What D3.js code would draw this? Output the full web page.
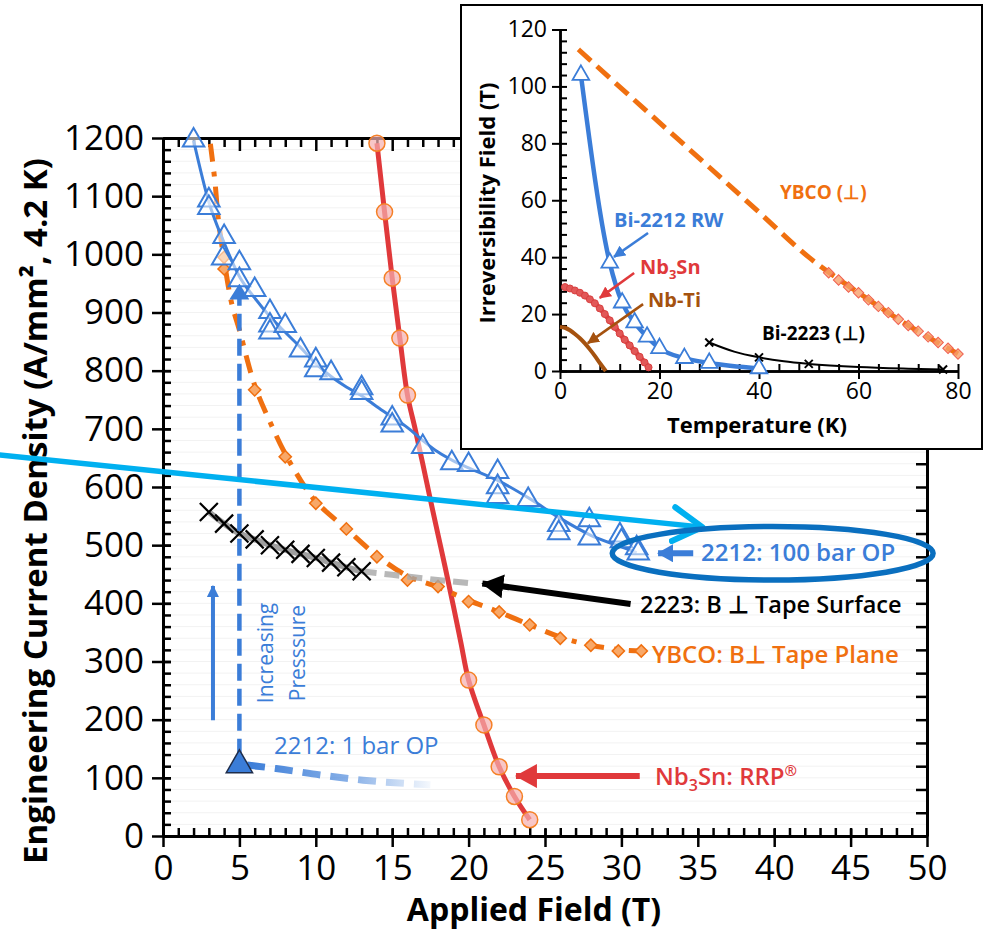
<!DOCTYPE html>
<html>
<head>
<meta charset="utf-8">
<script src="https://cdn.jsdelivr.net/npm/d3@7"></script>
<style>
body { margin: 0; background: #fff; }
svg text { font-family: "Open Sans", sans-serif; }
</style>
</head>
<body>
<script>
// ---- main chart: engineering current density at 4.2 K vs applied field ----
var fieldTicks = [0, 5, 10, 15, 20, 25, 30, 35, 40, 45, 50];
var jeTicks = [0, 100, 200, 300, 400, 500, 600, 700, 800, 900, 1000, 1100, 1200];

// Bi-2212 round wire, 100 bar overpressure (open triangles)
var bi2212Points = [[2,1196],[3,1093],[3,1080],[4,1030],[3.9,993],[5,985],[5,956],[6,939],[7,901],[7,878],[7,866],
  [8,877],[9,835],[10,818],[10,801],[11,796],[13,770],[13,762],[15,718],[15,706],[17,669],[18.9,641],[20,638],
  [21.9,626],[21.9,600],[21.9,583],[23.9,578],[25.9,535],[25.9,521],[27.9,543],[27.9,512],[29.9,517],[30,507],
  [31,495],[31.1,486]];
var bi2212Fit = [[2,1196],[3,1090],[4,1020],[5,962],[6,925],[7,893],[8,866],[9,840],[10,812],[11,790],[12,772],
  [13,757],[14,738],[15,720],[16,702],[17,680],[18,660],[19,645],[20,633],[22,610],[24,580],[26,546],[28,517],
  [30,497],[31,487]];
// Bi-2212, 1 bar overpressure
var bi2212OneBar = [[5,122]];
var bi2212OneBarTrend = [[5.5,122],[7.4,116],[10.3,105],[13.1,96],[17.5,88]];

// YBCO, B perpendicular to tape plane (diamonds, dash-dot)
var ybcoPoints = [[4,995],[4,975],[6,767],[8,652],[10,572],[12,528],[14,480],[16,440],[18,429],[20,403],
  [22,385],[24,363],[26,340],[28,328],[29.8,318],[31.3,318]];
var ybcoLine = [[3.1,1190],[3.4,1125],[3.6,1065],[4,990],[4.5,915],[5,870],[6,775],[7,712],[8,657],[9,612],
  [10,575],[12,528],[14,482],[16,447],[18,428],[20,405],[22,385],[24,363],[26,342],[28,328],[30,320],[31.3,318]];

// Bi-2223 tape, B perpendicular to tape surface (crosses)
var bi2223Points = [[3,557],[4,537],[5,520],[6,510],[7,500],[8,492],[9,485],[10,478],[11,470],[12,462],[13,455]];
var bi2223Extrap = [[13,455],[15,449],[17,443],[20.3,434]];

// Nb3Sn RRP (circles)
var nb3snPoints = [[14,1191],[14.5,1073],[15,959],[15.5,856],[16,758],[20,268],[21,191],[22,119],[23,68],[24,28]];
var nb3snLine = [[14,1191],[14.5,1073],[15,959],[15.5,856],[16,758],[16.5,700],[17,640],[17.5,578],[18,518],
  [18.5,458],[19,396],[19.5,332],[20,268],[21,191],[22,119],[23,68],[24,28]];

// ---- inset: irreversibility field vs temperature ----
var tempTicks = [0, 20, 40, 60, 80];
var hirrTicks = [0, 20, 40, 60, 80, 100, 120];
var insetYbcoLine = [[3.7,113],[10,103],[20,87.3],[30,71.6],[40,55.8],[50,40],[60,27.5],[70,16],[80,6]];
var insetYbcoPoints = [[54,34.5],[56,32],[58,29.5],[60,27.5],[62,25],[64,22.7],[66,20.5],[68,18.2],[70,16],
  [72,14],[74,12],[76,10],[78,8],[80,6]];
var insetBi2212 = [[4.2,104],[10,38],[12.5,24],[15,17],[17.5,12],[20,8],[25,4.5],[30,2.8],[40,0.9]];
var insetNb3Sn = [[1,29.5],[2,29],[3,28.3],[4,27.5],[5,26.5],[6,25.2],[7,23.8],[8,22],[9,20],[10,17.8],
  [11,15.5],[12,13.2],[13,11],[14,9],[15,7],[16,5],[17,3],[17.8,1.3]];
var insetNbTi = [[0,15.5],[1,15.2],[2,14.3],[3,13],[4,11.5],[5,9.7],[6,7.6],[7,5.3],[8,2.8],[9.2,0]];
var insetBi2223Line = [[30,10],[35,6.8],[40,4.8],[45,3.4],[50,2.5],[60,1.4],[70,0.8],[77,0.5]];
var insetBi2223Points = [[30,10],[40,4.8],[50,2.5],[77,0.5]];

var blue = '#3b7dd8', orange = '#f07010', red = '#e0393b', brown = '#a5520f';

var svg = d3.select('body').append('svg')
    .attr('width', 984)
    .attr('height', 929);

var defs = svg.append('defs');
function arrowHead(id, color, len, wid) {
    defs.append('marker')
        .attr('id', id)
        .attr('markerUnits', 'userSpaceOnUse')
        .attr('viewBox', '0 0 ' + len + ' ' + wid)
        .attr('markerWidth', len)
        .attr('markerHeight', wid)
        .attr('refX', len - 1)
        .attr('refY', wid / 2)
        .attr('orient', 'auto')
        .append('path')
        .attr('d', 'M0,0L' + len + ',' + wid / 2 + 'L0,' + wid + 'Z')
        .attr('fill', color);
}
arrowHead('ahRed', red, 22, 24);
arrowHead('ahBlack', '#000', 22, 24);
arrowHead('ahBlue', blue, 16, 18);
arrowHead('ahBlueV', blue, 16, 20);
arrowHead('ahBlueS', blue, 12, 12);
arrowHead('ahRedS', red, 12, 12);
arrowHead('ahBrownS', brown, 12, 12);
defs.append('marker')
    .attr('id', 'chevron')
    .attr('markerUnits', 'userSpaceOnUse')
    .attr('viewBox', '0 0 36 40')
    .attr('markerWidth', 36)
    .attr('markerHeight', 40)
    .attr('refX', 32)
    .attr('refY', 20)
    .attr('orient', 'auto')
    .append('path')
    .attr('d', 'M3,3L32,20L3,37')
    .attr('fill', 'none')
    .attr('stroke', '#00b0f0')
    .attr('stroke-width', 6)
    .attr('stroke-linecap', 'round')
    .attr('stroke-linejoin', 'round');
var grad = defs.append('linearGradient')
    .attr('id', 'fade')
    .attr('gradientUnits', 'userSpaceOnUse');

var x = d3.scaleLinear().domain([0, 50]).range([163, 927]);
var y = d3.scaleLinear().domain([0, 1200]).range([836, 138]);

grad.attr('x1', x(5.5)).attr('x2', x(18)).attr('y1', 0).attr('y2', 0);
grad.append('stop').attr('offset', '0%').attr('stop-color', blue).attr('stop-opacity', 1);
grad.append('stop').attr('offset', '55%').attr('stop-color', blue).attr('stop-opacity', 0.6);
grad.append('stop').attr('offset', '100%').attr('stop-color', blue).attr('stop-opacity', 0);

// faint gridlines
svg.append('g').selectAll('line')
    .data(d3.range(20, 1201, 20))
    .enter().append('line')
    .attr('x1', x(0)).attr('x2', x(50))
    .attr('y1', d => y(d)).attr('y2', d => y(d))
    .attr('stroke', '#f2f2f2').attr('stroke-width', 1);

function styleAxis(g, size, w) {
    g.attr('font-family', '"Open Sans", sans-serif').attr('font-size', size);
    g.select('.domain').attr('stroke', '#000').attr('stroke-width', w + 0.5);
    g.selectAll('.tick line').attr('stroke', '#000').attr('stroke-width', w);
    g.selectAll('.tick text').attr('fill', '#000');
}

// bottom axis
var gxMinor = svg.append('g').attr('transform', 'translate(0,' + y(0) + ')')
    .call(d3.axisBottom(x).tickValues(d3.range(0, 51, 1)).tickSize(-8).tickSizeOuter(0).tickFormat(''));
styleAxis(gxMinor, 35, 2.5);
var gx = svg.append('g').attr('transform', 'translate(0,' + y(0) + ')')
    .call(d3.axisBottom(x).tickValues(fieldTicks).tickSize(11).tickSizeOuter(0).tickPadding(8));
styleAxis(gx, 35, 2.5);
gx.selectAll('.tick line').attr('y1', -7);

// left axis
var gyMinor = svg.append('g').attr('transform', 'translate(' + x(0) + ',0)')
    .call(d3.axisLeft(y).tickValues(d3.range(0, 1201, 20)).tickSize(-8).tickSizeOuter(0).tickFormat(''));
styleAxis(gyMinor, 35, 2.5);
var gy = svg.append('g').attr('transform', 'translate(' + x(0) + ',0)')
    .call(d3.axisLeft(y).tickValues(jeTicks).tickSize(11).tickSizeOuter(0).tickPadding(8).tickFormat(d3.format('d')));
styleAxis(gy, 35, 2.5);
gy.selectAll('.tick line').attr('x1', 8);

// top and right frame axes
var gt = svg.append('g').attr('transform', 'translate(0,' + y(1200) + ')')
    .call(d3.axisTop(x).tickValues(d3.range(0, 51, 1)).tickSize(-9).tickSizeOuter(0).tickFormat(''));
styleAxis(gt, 10, 2.5);
gt.selectAll('.tick line').filter(d => d % 5 === 0).attr('y2', 13);
var gr = svg.append('g').attr('transform', 'translate(' + x(50) + ',0)')
    .call(d3.axisRight(y).tickValues(d3.range(0, 1201, 40)).tickSize(-11).tickSizeOuter(0).tickFormat(''));
styleAxis(gr, 10, 2.5);

// axis titles
svg.append('text')
    .attr('transform', 'translate(34,511) rotate(-90)')
    .attr('text-anchor', 'middle')
    .attr('dominant-baseline', 'central')
    .attr('font-size', 33).attr('font-weight', 'bold')
    .text('Engineering Current Density (A/mm², 4.2 K)');
svg.append('text')
    .attr('x', 534).attr('y', 921)
    .attr('text-anchor', 'middle')
    .attr('font-size', 32).attr('font-weight', 'bold')
    .text('Applied Field (T)');

// ---- series ----
var line = d3.line().x(d => x(d[0])).y(d => y(d[1]));

// Nb3Sn
svg.append('path').datum(nb3snLine)
    .attr('d', line.curve(d3.curveCatmullRom))
    .attr('fill', 'none').attr('stroke', red).attr('stroke-width', 5);
svg.append('g').selectAll('circle')
    .data(nb3snPoints).enter().append('circle')
    .attr('cx', d => x(d[0])).attr('cy', d => y(d[1])).attr('r', 8)
    .attr('fill', 'rgba(245,175,175,0.7)').attr('stroke', '#f58025').attr('stroke-width', 1.5);

// YBCO
svg.append('path').datum(ybcoLine)
    .attr('d', line.curve(d3.curveCatmullRom))
    .attr('fill', 'none').attr('stroke', orange).attr('stroke-width', 5)
    .attr('stroke-dasharray', '18,10,5,10');
svg.append('g').selectAll('path')
    .data(ybcoPoints).enter().append('path')
    .attr('d', d3.symbol().type(d3.symbolSquare).size(75))
    .attr('transform', d => 'translate(' + x(d[0]) + ',' + y(d[1]) + ') rotate(45)')
    .attr('fill', '#f8a868').attr('stroke', orange).attr('stroke-width', 1.5);

// Bi-2223
svg.append('path').datum(bi2223Points)
    .attr('d', line.curve(d3.curveMonotoneX))
    .attr('fill', 'none').attr('stroke', '#888').attr('stroke-opacity', 0.8).attr('stroke-width', 6);
svg.append('path').datum(bi2223Extrap)
    .attr('d', line.curve(d3.curveMonotoneX))
    .attr('fill', 'none').attr('stroke', '#a6a6a6').attr('stroke-opacity', 0.8).attr('stroke-width', 6)
    .attr('stroke-dasharray', '15,8');
svg.append('g').selectAll('path')
    .data(bi2223Points).enter().append('path')
    .attr('d', 'M-9,-9L9,9M-9,9L9,-9')
    .attr('transform', d => 'translate(' + x(d[0]) + ',' + y(d[1]) + ')')
    .attr('stroke', '#000').attr('stroke-width', 2.2);

// Bi-2212 100 bar
svg.append('path').datum(bi2212Fit)
    .attr('d', line.curve(d3.curveMonotoneX))
    .attr('fill', 'none').attr('stroke', blue).attr('stroke-width', 3);
svg.append('g').selectAll('path')
    .data(bi2212Points).enter().append('path')
    .attr('d', d3.symbol().type(d3.symbolTriangle).size(200))
    .attr('transform', d => 'translate(' + x(d[0]) + ',' + y(d[1]) + ')')
    .attr('fill', 'rgba(255,255,255,0.55)').attr('stroke', blue).attr('stroke-width', 2);

// Bi-2212 1 bar, plus pressure arrow
svg.append('path').datum(bi2212OneBarTrend)
    .attr('d', line.curve(d3.curveMonotoneX))
    .attr('fill', 'none').attr('stroke', 'url(#fade)').attr('stroke-width', 7)
    .attr('stroke-dasharray', '18,10');
svg.append('line')
    .attr('x1', x(5)).attr('x2', x(5))
    .attr('y1', y(138)).attr('y2', y(948))
    .attr('stroke', blue).attr('stroke-width', 4.5)
    .attr('stroke-dasharray', '17,8')
    .attr('marker-end', 'url(#ahBlueV)');
svg.append('g').selectAll('path')
    .data(bi2212OneBar).enter().append('path')
    .attr('d', d3.symbol().type(d3.symbolTriangle).size(300))
    .attr('transform', d => 'translate(' + x(d[0]) + ',' + y(d[1]) + ')')
    .attr('fill', blue).attr('stroke', '#1f2d4a').attr('stroke-width', 1.5);

svg.append('line')
    .attr('x1', x(3.27)).attr('x2', x(3.27))
    .attr('y1', y(199)).attr('y2', y(430))
    .attr('stroke', blue).attr('stroke-width', 4)
    .attr('marker-end', 'url(#ahBlueS)');
svg.append('text')
    .attr('transform', 'translate(265,653) rotate(-90)')
    .attr('text-anchor', 'middle').attr('dominant-baseline', 'central')
    .attr('font-size', 21).attr('fill', blue)
    .text('Increasing');
svg.append('text')
    .attr('transform', 'translate(297,653) rotate(-90)')
    .attr('text-anchor', 'middle').attr('dominant-baseline', 'central')
    .attr('font-size', 21).attr('fill', blue)
    .text('Presssure');
svg.append('text')
    .attr('x', 274).attr('y', 754)
    .attr('font-size', 24).attr('fill', blue)
    .text('2212: 1 bar OP');

// ---- annotations on the right ----
svg.append('line')
    .attr('x1', x(-10.7)).attr('y1', y(655))
    .attr('x2', x(35.3)).attr('y2', y(531))
    .attr('stroke', '#00b0f0').attr('stroke-width', 5.5)
    .attr('marker-end', 'url(#chevron)');
svg.append('ellipse')
    .attr('cx', x(39.9)).attr('cy', y(486))
    .attr('rx', x(10.5) - x(0)).attr('ry', y(0) - y(46))
    .attr('fill', 'none').attr('stroke', '#0a6fbf').attr('stroke-width', 5.5);
svg.append('line')
    .attr('x1', x(34.7)).attr('y1', y(486))
    .attr('x2', x(32.4)).attr('y2', y(486))
    .attr('stroke', blue).attr('stroke-width', 6)
    .attr('marker-end', 'url(#ahBlue)');
svg.append('text')
    .attr('x', 701).attr('y', 561)
    .attr('font-size', 24).attr('font-weight', 600).attr('fill', blue)
    .text('2212: 100 bar OP');

svg.append('line')
    .attr('x1', x(30.6)).attr('y1', y(399))
    .attr('x2', x(20.9)).attr('y2', y(434))
    .attr('stroke', '#000').attr('stroke-width', 6)
    .attr('marker-end', 'url(#ahBlack)');
svg.append('text')
    .attr('x', 640).attr('y', 613)
    .attr('font-size', 23.5).attr('font-weight', 600).attr('fill', '#000')
    .text('2223: B \u22a5 Tape Surface');

svg.append('text')
    .attr('x', 652).attr('y', 663)
    .attr('font-size', 24).attr('font-weight', 600).attr('fill', orange)
    .text('YBCO: B\u22a5 Tape Plane');

svg.append('line')
    .attr('x1', x(31.2)).attr('y1', y(103))
    .attr('x2', x(23.1)).attr('y2', y(103))
    .attr('stroke', red).attr('stroke-width', 6)
    .attr('marker-end', 'url(#ahRed)');
var nbText = svg.append('text')
    .attr('x', 655).attr('y', 785)
    .attr('font-size', 24).attr('font-weight', 600).attr('fill', red);
nbText.append('tspan').text('Nb');
nbText.append('tspan').attr('font-size', 16).attr('dy', 6).text('3');
nbText.append('tspan').attr('dy', -6).text('Sn: RRP');
nbText.append('tspan').attr('font-size', 15).attr('dy', -9).text('\u00ae');

// ---- inset ----
svg.append('rect')
    .attr('x', 461).attr('y', 5).attr('width', 521).attr('height', 444)
    .attr('fill', '#fff').attr('stroke', '#000').attr('stroke-width', 2);

var ix = d3.scaleLinear().domain([0, 80]).range([560, 958]);
var iy = d3.scaleLinear().domain([0, 120]).range([371, 29.5]);

var ixMinor = svg.append('g').attr('transform', 'translate(0,' + iy(0) + ')')
    .call(d3.axisBottom(ix).tickValues(d3.range(0, 81, 4)).tickSize(-7).tickSizeOuter(0).tickFormat(''));
styleAxis(ixMinor, 23, 2);
var ixg = svg.append('g').attr('transform', 'translate(0,' + iy(0) + ')')
    .call(d3.axisBottom(ix).tickValues(tempTicks).tickSize(8).tickSizeOuter(0).tickPadding(4));
styleAxis(ixg, 23, 2);
var iyMinor = svg.append('g').attr('transform', 'translate(' + ix(0) + ',0)')
    .call(d3.axisLeft(iy).tickValues(d3.range(0, 121, 4)).tickSize(-7).tickSizeOuter(0).tickFormat(''));
styleAxis(iyMinor, 23, 2);
var iyg = svg.append('g').attr('transform', 'translate(' + ix(0) + ',0)')
    .call(d3.axisLeft(iy).tickValues(hirrTicks).tickSize(8).tickSizeOuter(0).tickPadding(5));
styleAxis(iyg, 23, 2);

svg.append('text')
    .attr('transform', 'translate(486,203) rotate(-90)')
    .attr('text-anchor', 'middle').attr('dominant-baseline', 'central')
    .attr('font-size', 22).attr('font-weight', 'bold')
    .text('Irreversibility Field (T)');
svg.append('text')
    .attr('x', 757).attr('y', 433)
    .attr('text-anchor', 'middle')
    .attr('font-size', 22).attr('font-weight', 'bold')
    .text('Temperature (K)');

var iline = d3.line().x(d => ix(d[0])).y(d => iy(d[1]));

svg.append('path').datum(insetNbTi)
    .attr('d', iline.curve(d3.curveMonotoneX))
    .attr('fill', 'none').attr('stroke', brown).attr('stroke-width', 4);
svg.append('path').datum(insetNb3Sn)
    .attr('d', iline.curve(d3.curveMonotoneX))
    .attr('fill', 'none').attr('stroke', red).attr('stroke-width', 5);
svg.append('g').selectAll('circle')
    .data(insetNb3Sn).enter().append('circle')
    .attr('cx', d => ix(d[0])).attr('cy', d => iy(d[1])).attr('r', 3.5)
    .attr('fill', '#e25858').attr('stroke', '#d84040').attr('stroke-width', 1);

svg.append('path').datum(insetYbcoLine)
    .attr('d', iline.curve(d3.curveMonotoneX))
    .attr('fill', 'none').attr('stroke', orange).attr('stroke-width', 5)
    .attr('stroke-dasharray', '17,8');
svg.append('g').selectAll('path')
    .data(insetYbcoPoints).enter().append('path')
    .attr('d', d3.symbol().type(d3.symbolSquare).size(55))
    .attr('transform', d => 'translate(' + ix(d[0]) + ',' + iy(d[1]) + ') rotate(45)')
    .attr('fill', '#f7a06a').attr('fill-opacity', 0.8).attr('stroke', '#f06050').attr('stroke-width', 1);

svg.append('path').datum(insetBi2223Line)
    .attr('d', iline.curve(d3.curveMonotoneX))
    .attr('fill', 'none').attr('stroke', '#000').attr('stroke-width', 2);
svg.append('g').selectAll('path')
    .data(insetBi2223Points).enter().append('path')
    .attr('d', 'M-4,-4L4,4M-4,4L4,-4')
    .attr('transform', d => 'translate(' + ix(d[0]) + ',' + iy(d[1]) + ')')
    .attr('stroke', '#000').attr('stroke-width', 2);

svg.append('path').datum(insetBi2212)
    .attr('d', iline.curve(d3.curveMonotoneX))
    .attr('fill', 'none').attr('stroke', blue).attr('stroke-width', 4.5);
svg.append('g').selectAll('path')
    .data(insetBi2212).enter().append('path')
    .attr('d', d3.symbol().type(d3.symbolTriangle).size(120))
    .attr('transform', d => 'translate(' + ix(d[0]) + ',' + iy(d[1]) + ')')
    .attr('fill', '#fff').attr('stroke', blue).attr('stroke-width', 1.8);

// inset labels and arrows
svg.append('text').attr('x', 780).attr('y', 199)
    .attr('font-size', 19).attr('font-weight', 'bold').attr('fill', orange).text('YBCO (\u22a5)');
svg.append('text').attr('x', 614).attr('y', 227)
    .attr('font-size', 20).attr('font-weight', 'bold').attr('fill', blue).text('Bi-2212 RW');
svg.append('line')
    .attr('x1', ix(17.7)).attr('y1', iy(48.5))
    .attr('x2', ix(10.85)).attr('y2', iy(40.1))
    .attr('stroke', blue).attr('stroke-width', 2.5)
    .attr('marker-end', 'url(#ahBlueS)');
var iNb = svg.append('text').attr('x', 640).attr('y', 274)
    .attr('font-size', 20).attr('font-weight', 'bold').attr('fill', red);
iNb.append('tspan').text('Nb');
iNb.append('tspan').attr('font-size', 13).attr('dy', 5).text('3');
iNb.append('tspan').attr('dy', -5).text('Sn');
svg.append('line')
    .attr('x1', ix(14.9)).attr('y1', iy(34.4))
    .attr('x2', ix(8.0)).attr('y2', iy(25.7))
    .attr('stroke', red).attr('stroke-width', 2.5)
    .attr('marker-end', 'url(#ahRedS)');
svg.append('text').attr('x', 648).attr('y', 307)
    .attr('font-size', 20).attr('font-weight', 'bold').attr('fill', brown).text('Nb-Ti');
svg.append('line')
    .attr('x1', ix(16.7)).attr('y1', iy(23.5))
    .attr('x2', ix(5.6)).attr('y2', iy(9.8))
    .attr('stroke', brown).attr('stroke-width', 2.5)
    .attr('marker-end', 'url(#ahBrownS)');
svg.append('text').attr('x', 762).attr('y', 340)
    .attr('font-size', 19).attr('font-weight', 'bold').attr('fill', '#000').text('Bi-2223 (\u22a5)');
</script>
</body>
</html>
